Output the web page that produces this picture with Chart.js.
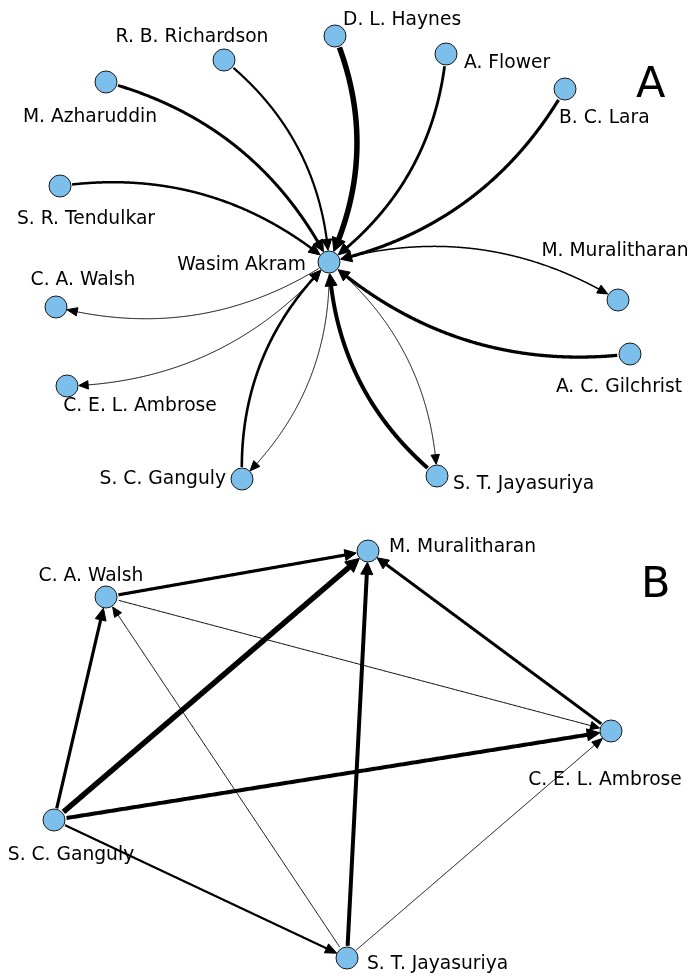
<!DOCTYPE html>
<html>
<head>
<meta charset="utf-8">
<script src="https://cdn.jsdelivr.net/npm/chart.js@4.4.0/dist/chart.umd.min.js"></script>
<style>
	html, body { margin: 0; padding: 0; background: #fff; }
	#wrap { width: 693px; height: 979px; }
</style>
</head>
<body>
<div id="wrap"><canvas id="netChart" width="693" height="979"></canvas></div>
<script>
// Panel A: everyone connected to Wasim Akram
const namesA = ['Wasim Akram', 'D. L. Haynes', 'R. B. Richardson', 'A. Flower', 'B. C. Lara', 'M. Azharuddin', 'S. R. Tendulkar',
	'C. A. Walsh', 'C. E. L. Ambrose', 'S. C. Ganguly', 'S. T. Jayasuriya', 'A. C. Gilchrist', 'M. Muralitharan'];
const xA = [329, 335, 224, 446, 565, 106, 60, 56, 67, 242, 437, 630, 618];
const yA = [262, 36, 60, 54, 89, 82, 186, 307, 386, 479, 476, 354, 300];

const edgeFromA = ['D. L. Haynes', 'R. B. Richardson', 'M. Azharuddin', 'S. R. Tendulkar', 'A. Flower', 'B. C. Lara', 'A. C. Gilchrist',
	'S. C. Ganguly', 'S. T. Jayasuriya', 'Wasim Akram', 'Wasim Akram', 'Wasim Akram', 'Wasim Akram', 'Wasim Akram'];
const edgeToA = ['Wasim Akram', 'Wasim Akram', 'Wasim Akram', 'Wasim Akram', 'Wasim Akram', 'Wasim Akram', 'Wasim Akram',
	'Wasim Akram', 'Wasim Akram', 'C. A. Walsh', 'C. E. L. Ambrose', 'S. C. Ganguly', 'S. T. Jayasuriya', 'M. Muralitharan'];
const edgeWeightA = [5.5, 2.2, 3, 2.5, 2.8, 3.2, 3.3, 2.6, 4, 1, 1, 1, 1, 1.5];

// Panel B: the five bowlers/batsmen among themselves
const namesB = ['M. Muralitharan', 'C. A. Walsh', 'C. E. L. Ambrose', 'S. C. Ganguly', 'S. T. Jayasuriya'];
const xB = [368, 106, 611, 54, 347];
const yB = [551, 597, 731, 820, 958];

const edgeFromB = ['C. A. Walsh', 'S. C. Ganguly', 'S. T. Jayasuriya', 'C. E. L. Ambrose', 'C. A. Walsh',
	'S. C. Ganguly', 'S. T. Jayasuriya', 'S. C. Ganguly', 'S. T. Jayasuriya', 'S. C. Ganguly'];
const edgeToB = ['M. Muralitharan', 'M. Muralitharan', 'M. Muralitharan', 'M. Muralitharan', 'C. E. L. Ambrose',
	'C. A. Walsh', 'C. A. Walsh', 'C. E. L. Ambrose', 'C. E. L. Ambrose', 'S. T. Jayasuriya'];
const edgeWeightB = [3.2, 5.5, 4, 3, 1, 3.2, 1, 4, 1, 2.2];

const panelTitles = ['A', 'B'];

// layout only: label offsets from the node centre [dx, dy, align]
const labelPosA = [[-23, 8, 'right'], [8, -11, 'left'], [-32, -18, 'center'], [18, 14, 'left'], [-6, 34, 'left'],
	[-16, 40, 'center'], [26, 38, 'center'], [27, -22, 'center'], [73, 25, 'center'], [-16, 5, 'right'],
	[16, 13, 'left'], [-11, 38, 'center'], [-3, -44, 'center']];
const labelPosB = [[21, 1, 'left'], [-15, -16, 'center'], [-6, 54, 'center'], [17, 40, 'center'], [20, 11, 'left']];

const NODE_R = 11;
const LABEL_FONT = '18.7px "DejaVu Sans"';

document.addEventListener('DOMContentLoaded', () => {
	createNetworkChart();
});

function nodePoints(names, xs, ys) {
	return names.map((name, i) => ({ x: xs[i], y: ys[i], name: name }));
}

function drawEdge(ctx, p0, p2, lw, rad) {
	const dx = p2.x - p0.x;
	const dy = p2.y - p0.y;
	const c = { x: (p0.x + p2.x) / 2 + rad * dy, y: (p0.y + p2.y) / 2 - rad * dx };
	const headLen = 9 + lw * 0.8;
	const headW = 3.6 + lw * 0.6;
	const rr = NODE_R + 1;

	const pts = [];
	for (let i = 0; i <= 400; i++) {
		const t = i / 400;
		const u = 1 - t;
		pts.push({
			x: u * u * p0.x + 2 * u * t * c.x + t * t * p2.x,
			y: u * u * p0.y + 2 * u * t * c.y + t * t * p2.y,
		});
	}
	const dist = (a, b) => Math.hypot(a.x - b.x, a.y - b.y);
	const startIdx = pts.findIndex((p) => dist(p, p0) >= rr);
	const tipIdx = pts.findIndex((p) => dist(p, p2) <= rr);
	const baseIdx = pts.findIndex((p) => dist(p, p2) <= rr + headLen);
	const lineEnd = pts.findIndex((p) => dist(p, p2) <= rr + headLen * 0.6);

	ctx.beginPath();
	ctx.moveTo(pts[startIdx].x, pts[startIdx].y);
	for (let i = startIdx + 1; i <= lineEnd; i++) {
		ctx.lineTo(pts[i].x, pts[i].y);
	}
	ctx.lineWidth = lw;
	ctx.strokeStyle = '#000';
	ctx.lineCap = 'butt';
	ctx.lineJoin = 'round';
	ctx.stroke();

	const tip = pts[tipIdx];
	const base = pts[baseIdx];
	const len = dist(tip, base);
	const ux = (tip.x - base.x) / len;
	const uy = (tip.y - base.y) / len;
	ctx.beginPath();
	ctx.moveTo(tip.x, tip.y);
	ctx.lineTo(base.x - uy * headW, base.y + ux * headW);
	ctx.lineTo(base.x + uy * headW, base.y - ux * headW);
	ctx.closePath();
	ctx.fillStyle = '#000';
	ctx.fill();
	ctx.lineWidth = 1;
	ctx.stroke();
}

const edgePlugin = {
	id: 'networkEdges',
	beforeDatasetsDraw(chart) {
		const ctx = chart.ctx;
		const sx = chart.scales.x;
		const sy = chart.scales.y;
		const pos = (names, xs, ys, name) => {
			const i = names.indexOf(name);
			return { x: sx.getPixelForValue(xs[i]), y: sy.getPixelForValue(ys[i]) };
		};
		ctx.save();
		edgeFromA.forEach((from, i) => {
			drawEdge(ctx, pos(namesA, xA, yA, from), pos(namesA, xA, yA, edgeToA[i]), edgeWeightA[i], 0.22);
		});
		edgeFromB.forEach((from, i) => {
			drawEdge(ctx, pos(namesB, xB, yB, from), pos(namesB, xB, yB, edgeToB[i]), edgeWeightB[i], 0);
		});
		ctx.restore();
	},
	afterDatasetsDraw(chart) {
		const ctx = chart.ctx;
		const sx = chart.scales.x;
		const sy = chart.scales.y;
		ctx.save();
		ctx.fillStyle = '#000';
		ctx.font = LABEL_FONT;
		ctx.textBaseline = 'alphabetic';
		const drawLabels = (names, xs, ys, offsets) => {
			names.forEach((name, i) => {
				ctx.textAlign = offsets[i][2];
				ctx.fillText(name, sx.getPixelForValue(xs[i]) + offsets[i][0], sy.getPixelForValue(ys[i]) + offsets[i][1]);
			});
		};
		drawLabels(namesA, xA, yA, labelPosA);
		drawLabels(namesB, xB, yB, labelPosB);

		ctx.font = '43px "DejaVu Sans"';
		ctx.textAlign = 'left';
		ctx.fillText(panelTitles[0], 636, 97);
		ctx.fillText(panelTitles[1], 641, 597);
		ctx.restore();
	},
};

function createNetworkChart() {
	const ctx = document.getElementById('netChart').getContext('2d');
	const nodeStyle = {
		pointRadius: NODE_R,
		pointHoverRadius: NODE_R,
		pointBackgroundColor: '#7cbfeb',
		pointBorderColor: '#1a1a1a',
		pointBorderWidth: 1,
		showLine: false,
		clip: false,
	};
	new Chart(ctx, {
		type: 'scatter',
		data: {
			datasets: [
				Object.assign({ label: 'A', data: nodePoints(namesA, xA, yA) }, nodeStyle),
				Object.assign({ label: 'B', data: nodePoints(namesB, xB, yB) }, nodeStyle),
			],
		},
		options: {
			responsive: false,
			animation: false,
			events: [],
			layout: { padding: 0, autoPadding: false },
			scales: {
				x: { type: 'linear', min: 0, max: 693, display: false },
				y: { type: 'linear', min: 0, max: 979, reverse: true, display: false },
			},
			plugins: {
				legend: { display: false },
				tooltip: { enabled: false },
			},
		},
		plugins: [edgePlugin],
	});
}
</script>
</body>
</html>
